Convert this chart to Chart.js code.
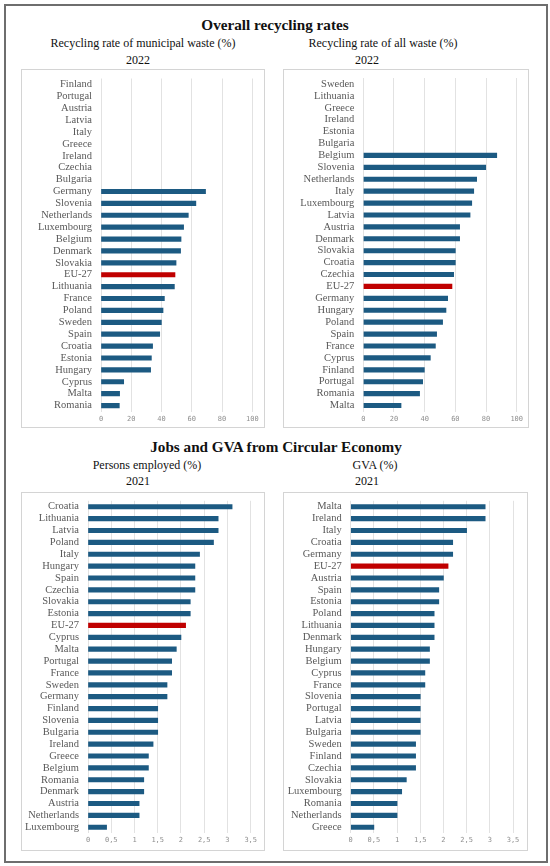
<!DOCTYPE html>
<html>
<head>
<meta charset="utf-8">
<script src="https://cdn.jsdelivr.net/npm/chart.js@4.4.1/dist/chart.umd.min.js"></script>
<style>
  body { margin: 0; background: #fff; }
  #page { position: relative; width: 550px; height: 866px; background: #fff; overflow: hidden; }
  .frame { position: absolute; left: 4px; top: 4px; width: 540px; height: 855px; border: 2px solid #6e6e6e; }
  .txt { position: absolute; transform: translate(-50%, -50%); white-space: nowrap;
         font-family: "Liberation Serif", "Times New Roman", serif; color: #111; line-height: 1; }
  .main { font-weight: bold; font-size: 15.2px; }
  .sub { font-size: 12px; }
  .box { position: absolute; border: 1px solid #d4d4d4; box-sizing: border-box; }
  .box canvas { position: absolute; left: 0; top: 0; }
</style>
</head>
<body>
<div id="page">
  <div class="frame"></div>

  <div class="txt main" style="left:275px; top:25px;">Overall recycling rates</div>
  <div class="txt sub" style="left:143px; top:43px;">Recycling rate of municipal waste (%)</div>
  <div class="txt sub" style="left:138px; top:60px;">2022</div>
  <div class="txt sub" style="left:383px; top:43px;">Recycling rate of all waste (%)</div>
  <div class="txt sub" style="left:367px; top:60px;">2022</div>

  <div class="txt main" style="left:276px; top:447px;">Jobs and GVA from Circular Economy</div>
  <div class="txt sub" style="left:147px; top:465px;">Persons employed (%)</div>
  <div class="txt sub" style="left:138px; top:481px;">2021</div>
  <div class="txt sub" style="left:375px; top:465px;">GVA (%)</div>
  <div class="txt sub" style="left:367px; top:481px;">2021</div>

  <div class="box" style="left:21px; top:69px; width:244px; height:359px;"><canvas id="chMunicipal" width="242" height="357"></canvas></div>
  <div class="box" style="left:283px; top:69px; width:246px; height:359px;"><canvas id="chAllWaste" width="244" height="357"></canvas></div>
  <div class="box" style="left:21px; top:492px; width:244px; height:359px;"><canvas id="chJobs" width="242" height="357"></canvas></div>
  <div class="box" style="left:283px; top:492px; width:245px; height:359px;"><canvas id="chGva" width="243" height="357"></canvas></div>
</div>

<script>
// recycling rate of municipal waste, 2022 (%)
var municipalLabels = ['Finland','Portugal','Austria','Latvia','Italy','Greece','Ireland','Czechia','Bulgaria',
  'Germany','Slovenia','Netherlands','Luxembourg','Belgium','Denmark','Slovakia','EU-27','Lithuania','France',
  'Poland','Sweden','Spain','Croatia','Estonia','Hungary','Cyprus','Malta','Romania'];
var municipalValues = [null,null,null,null,null,null,null,null,null,
  69.1,62.7,57.7,54.6,52.9,52.6,49.6,48.9,48.5,41.9,
  41.0,39.9,38.8,34.1,33.3,32.8,15.0,12.3,12.1];

// recycling rate of all waste, 2022 (%)
var allWasteLabels = ['Sweden','Lithuania','Greece','Ireland','Estonia','Bulgaria','Belgium','Slovenia','Netherlands',
  'Italy','Luxembourg','Latvia','Austria','Denmark','Slovakia','Croatia','Czechia','EU-27','Germany','Hungary',
  'Poland','Spain','France','Cyprus','Finland','Portugal','Romania','Malta'];
var allWasteValues = [null,null,null,null,null,null,87.0,79.8,73.9,
  72.0,70.7,69.6,62.8,62.8,60.0,60.0,58.9,57.8,55.0,53.9,
  51.7,47.8,47.0,43.7,39.8,38.7,36.7,24.6];

// persons employed in circular economy, 2021 (%)
var jobsLabels = ['Croatia','Lithuania','Latvia','Poland','Italy','Hungary','Spain','Czechia','Slovakia','Estonia',
  'EU-27','Cyprus','Malta','Portugal','France','Sweden','Germany','Finland','Slovenia','Bulgaria','Ireland',
  'Greece','Belgium','Romania','Denmark','Austria','Netherlands','Luxembourg'];
var jobsValues = [3.1,2.8,2.8,2.7,2.4,2.3,2.3,2.3,2.2,2.2,
  2.1,2.0,1.9,1.8,1.8,1.7,1.7,1.5,1.5,1.5,1.4,
  1.3,1.3,1.2,1.2,1.1,1.1,0.4];

// gross value added from circular economy, 2021 (%)
var gvaLabels = ['Malta','Ireland','Italy','Croatia','Germany','EU-27','Austria','Spain','Estonia','Poland',
  'Lithuania','Denmark','Hungary','Belgium','Cyprus','France','Slovenia','Portugal','Latvia','Bulgaria',
  'Sweden','Finland','Czechia','Slovakia','Luxembourg','Romania','Netherlands','Greece'];
var gvaValues = [2.9,2.9,2.5,2.2,2.2,2.1,2.0,1.9,1.9,1.8,
  1.8,1.8,1.7,1.7,1.6,1.6,1.5,1.5,1.5,1.5,
  1.4,1.4,1.4,1.2,1.1,1.0,1.0,0.5];

// axis ticks
var pctMax = 100, pctStep = 20;
var shareMax = 3.5, shareStep = 0.5;

// colours
var barBlue = '#1c5a82';
var barRed = '#c00000';

function makeBars(id, labels, values, max, step, comma, pad, yWidth) {
  var el = document.getElementById(id);
  if (!el) return;
  new Chart(el, {
    type: 'bar',
    data: {
      labels: labels,
      datasets: [{
        data: values,
        backgroundColor: labels.map(function(l) { return l === 'EU-27' ? barRed : barBlue; }),
        borderWidth: 0,
        barThickness: 4.5
      }]
    },
    options: {
      indexAxis: 'y',
      responsive: false,
      animation: false,
      layout: { padding: pad },
      plugins: { legend: { display: false }, tooltip: { enabled: false } },
      scales: {
        x: {
          min: 0, max: max,
          grid: { color: '#e2e2e2', drawTicks: false },
          border: { display: false },
          ticks: {
            stepSize: step,
            padding: 3,
            color: '#8f8f8f',
            font: { family: 'DejaVu Sans Mono', size: 7 },
            callback: function(v) { return comma ? String(v).replace('.', ',') : String(v); }
          },
          afterFit: function(s) { s.height = 14; }
        },
        y: {
          grid: { display: false, drawTicks: false },
          border: { display: false },
          ticks: {
            padding: 9,
            autoSkip: false,
            color: '#595959',
            font: { family: 'Liberation Serif', size: 10.5 }
          },
          // fixed label column; drop the extra label padding at top/bottom
          afterFit: function(s) { s.width = yWidth; s.paddingTop = 0; s.paddingBottom = 0; }
        }
      }
    }
  });
}

makeBars('chMunicipal', municipalLabels, municipalValues, pctMax, pctStep, false,
  { left: 0, right: 11.7, top: 8.5, bottom: 1.5 }, 79);
makeBars('chAllWaste', allWasteLabels, allWasteValues, pctMax, pctStep, false,
  { left: 0, right: 11.3, top: 8, bottom: 1.5 }, 79.3);
makeBars('chJobs', jobsLabels, jobsValues, shareMax, shareStep, true,
  { left: 0, right: 13.3, top: 7.8, bottom: 2.8 }, 66);
makeBars('chGva', gvaLabels, gvaValues, shareMax, shareStep, true,
  { left: 0, right: 14, top: 7.8, bottom: 2.8 }, 66.7);
</script>
</body>
</html>
